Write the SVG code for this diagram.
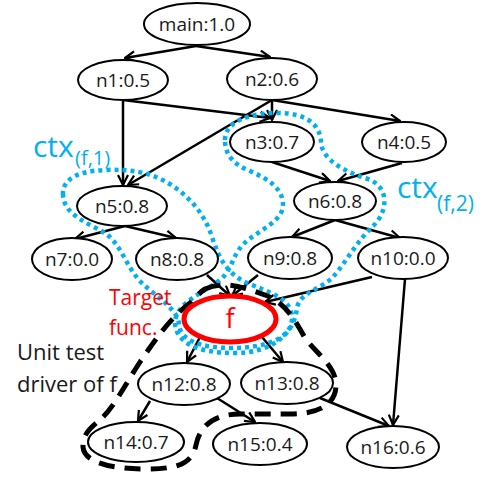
<svg xmlns="http://www.w3.org/2000/svg" width="480" height="477" viewBox="0 0 480 477">
<style>
.nd ellipse{fill:#fff;stroke:#000;stroke-width:2}
.nd text{font-family:"Open Sans","Noto Sans",sans-serif;font-size:19px;fill:#1a1a1a;text-anchor:middle}
.e line{stroke:#000;stroke-width:2.5;marker-end:url(#ah)}
.ctx{fill:none;stroke:#00B0F0;stroke-width:4.5;stroke-dasharray:4 4}
.drv{fill:none;stroke:#000;stroke-width:5;stroke-dasharray:16 10}
.lbl{font-family:"Open Sans","Noto Sans",sans-serif}
</style>
<defs>
<marker id="ah" viewBox="0 0 12 12" markerWidth="12" markerHeight="12" refX="11" refY="6" orient="auto" markerUnits="userSpaceOnUse">
<path d="M1,1 L11,6 L1,11" fill="none" stroke="#000" stroke-width="2.2"/>
</marker>
</defs>
<rect width="480" height="477" fill="#fff"/>
<g id="connectors" class="e">
<line x1="196" y1="46" x2="125" y2="58"/>
<line x1="196" y1="46" x2="270" y2="57"/>
<line x1="123" y1="100" x2="123" y2="185"/>
<line x1="123" y1="100" x2="270" y2="118"/>
<line x1="272" y1="100" x2="272" y2="120"/>
<line x1="272" y1="100" x2="128" y2="185"/>
<line x1="272" y1="100" x2="400" y2="121"/>
<line x1="272" y1="162" x2="330" y2="181"/>
<line x1="402" y1="163" x2="338" y2="181"/>
<line x1="125" y1="226" x2="75" y2="239"/>
<line x1="125" y1="226" x2="176" y2="238"/>
<line x1="335" y1="220" x2="292" y2="237"/>
<line x1="335" y1="220" x2="400" y2="238"/>
<line x1="207" y1="275" x2="230" y2="296"/>
<line x1="258" y1="275" x2="232" y2="296"/>
<line x1="372" y1="277" x2="265" y2="302"/>
<line x1="405" y1="279" x2="393" y2="425"/>
<line x1="200" y1="337" x2="187" y2="362"/>
<line x1="262" y1="337" x2="283" y2="362"/>
<line x1="150" y1="401" x2="138" y2="421"/>
<line x1="217" y1="398" x2="255" y2="422"/>
<line x1="320" y1="398" x2="389" y2="426"/>
</g>
<g id="ctx1">
<path class="ctx" d="M 63,195 C 62,178 80,171 105,170 C 130,169 150,172 168,183 C 190,196 205,215 212,237 C 219,258 226,272 245,282 C 268,292 292,298 292,318 C 292,340 262,348 232,348 C 200,348 180,340 179,324 C 178,310 158,298 143,284 C 126,268 122,245 105,233 C 88,223 64,215 63,195 Z"/>
<text class="lbl" x="33" y="157" font-size="30" fill="#00B0F0">ctx</text>
<text class="lbl" x="75" y="165" font-size="20" fill="#00B0F0">(f,1)</text>
</g>
<g id="ctx2">
<path class="ctx" d="M 225,140 C 225,122 248,113 278,113 C 306,113 320,124 321,142 C 322,160 345,172 368,179 C 390,187 388,212 373,226 C 358,240 346,262 333,277 C 320,290 300,292 297,308 C 294,336 270,353 234,353 C 198,353 176,343 175,323 C 175,303 205,292 220,280 C 234,268 232,252 248,240 C 262,229 283,220 283,205 C 283,188 268,179 250,171 C 235,165 225,156 225,140 Z"/>
<text class="lbl" x="397" y="198" font-size="30" fill="#00B0F0">ctx</text>
<text class="lbl" x="437" y="211" font-size="21" fill="#00B0F0">(f,2)</text>
</g>
<g id="driver">
<path class="drv" d="M 205,289 C 225,280 245,288 265,295 C 285,302 295,320 305,338 C 315,352 336,366 336,385 C 336,405 318,414 290,414 L 240,414 C 215,414 200,425 196,445 C 192,465 175,469 145,469 C 110,469 84,462 83,447 C 82,432 95,425 103,417 C 115,405 125,385 140,362 C 155,340 170,318 190,303 C 195,298 200,292 205,289 Z"/>
<text class="lbl" x="17" y="360" font-size="22" fill="#1a1a1a">Unit test</text>
<text class="lbl" x="17" y="392" font-size="22" fill="#1a1a1a">driver of f</text>
</g>
<g id="main" class="nd"><ellipse cx="197" cy="24" rx="53" ry="21"/><text x="197" y="31">main:1.0</text></g>
<g id="n1" class="nd"><ellipse cx="123" cy="80" rx="45" ry="20"/><text x="123" y="87">n1:0.5</text></g>
<g id="n2" class="nd"><ellipse cx="272" cy="79" rx="45" ry="21"/><text x="272" y="86">n2:0.6</text></g>
<g id="n3" class="nd"><ellipse cx="272" cy="142" rx="42" ry="20"/><text x="272" y="149">n3:0.7</text></g>
<g id="n4" class="nd"><ellipse cx="404" cy="142" rx="42" ry="20"/><text x="404" y="149">n4:0.5</text></g>
<g id="n5" class="nd"><ellipse cx="122" cy="206" rx="45" ry="20"/><text x="122" y="213">n5:0.8</text></g>
<g id="n6" class="nd"><ellipse cx="335" cy="201" rx="41" ry="19"/><text x="335" y="208">n6:0.8</text></g>
<g id="n7" class="nd"><ellipse cx="72" cy="259" rx="40" ry="21"/><text x="72" y="266">n7:0.0</text></g>
<g id="n8" class="nd"><ellipse cx="177" cy="259" rx="41" ry="21"/><text x="177" y="266">n8:0.8</text></g>
<g id="n9" class="nd"><ellipse cx="290" cy="258" rx="42" ry="21"/><text x="290" y="265">n9:0.8</text></g>
<g id="n10" class="nd"><ellipse cx="403" cy="258" rx="45" ry="21"/><text x="403" y="265">n10:0.0</text></g>
<g id="f"><ellipse cx="230" cy="319" rx="46" ry="23" fill="#fff" stroke="#FF0000" stroke-width="5"/><text class="lbl" x="230" y="328" font-size="27" fill="#FF0000" text-anchor="middle">f</text></g>
<g id="target-label"><text class="lbl" x="109" y="305" font-size="21" fill="#FF0000">Target</text><text class="lbl" x="109" y="335" font-size="21" fill="#FF0000">func.</text></g>
<g id="n12" class="nd"><ellipse cx="184" cy="384" rx="46" ry="21"/><text x="184" y="391">n12:0.8</text></g>
<g id="n13" class="nd"><ellipse cx="287" cy="383" rx="46" ry="21"/><text x="287" y="390">n13:0.8</text></g>
<g id="n14" class="nd"><ellipse cx="136" cy="442" rx="48" ry="20"/><text x="136" y="449">n14:0.7</text></g>
<g id="n15" class="nd"><ellipse cx="260" cy="444" rx="47" ry="21"/><text x="260" y="451">n15:0.4</text></g>
<g id="n16" class="nd"><ellipse cx="393" cy="447" rx="46" ry="21"/><text x="393" y="454">n16:0.6</text></g>
</svg>
